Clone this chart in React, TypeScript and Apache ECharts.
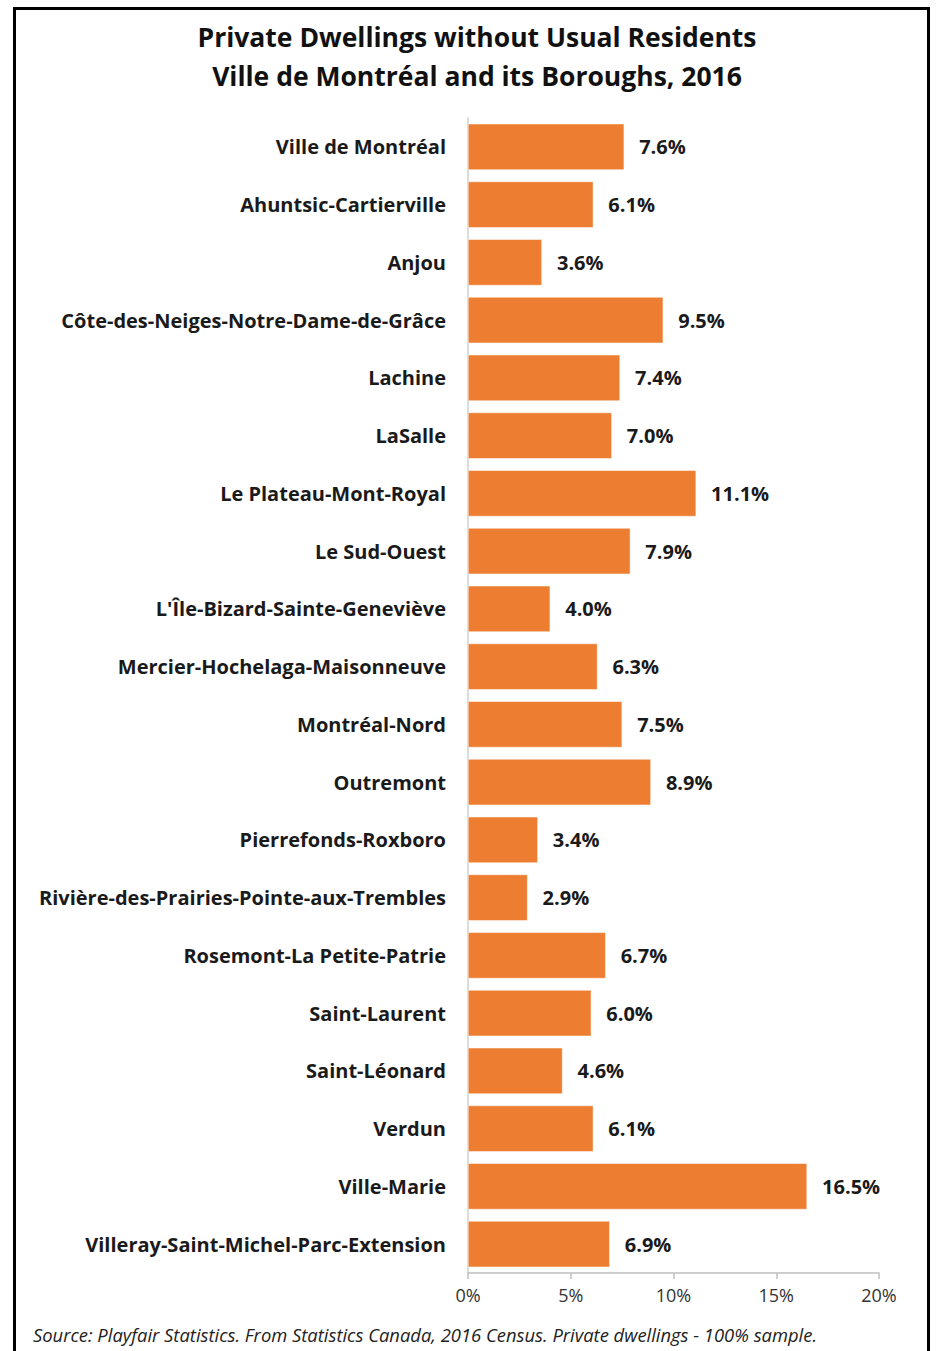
import React, { useEffect, useRef } from "react";
import * as echarts from "echarts";

const categories = [
  "Ville de Montréal",
  "Ahuntsic-Cartierville",
  "Anjou",
  "Côte-des-Neiges-Notre-Dame-de-Grâce",
  "Lachine",
  "LaSalle",
  "Le Plateau-Mont-Royal",
  "Le Sud-Ouest",
  "L'Île-Bizard-Sainte-Geneviève",
  "Mercier-Hochelaga-Maisonneuve",
  "Montréal-Nord",
  "Outremont",
  "Pierrefonds-Roxboro",
  "Rivière-des-Prairies-Pointe-aux-Trembles",
  "Rosemont-La Petite-Patrie",
  "Saint-Laurent",
  "Saint-Léonard",
  "Verdun",
  "Ville-Marie",
  "Villeray-Saint-Michel-Parc-Extension",
];

const values = [7.6, 6.1, 3.6, 9.5, 7.4, 7.0, 11.1, 7.9, 4.0, 6.3, 7.5, 8.9, 3.4, 2.9, 6.7, 6.0, 4.6, 6.1, 16.5, 6.9];

const titleLines = [
  "Private Dwellings without Usual Residents",
  "Ville de Montréal and its Boroughs, 2016",
];
const sourceText =
  "Source: Playfair Statistics. From Statistics Canada, 2016 Census. Private dwellings - 100% sample.";

const FONT = "'Open Sans', Lato, sans-serif";

export default function App() {
  const ref = useRef<HTMLDivElement>(null);
  useEffect(() => {
    if (!ref.current) return;
    const chart = echarts.init(ref.current, null, { renderer: "svg" });
    chart.setOption({
      animation: false,
      backgroundColor: "#ffffff",
      textStyle: { fontFamily: FONT },
      title: {
        text: titleLines.join("\n"),
        left: 472,
        top: 12,
        textAlign: "center",
        textStyle: {
          fontFamily: FONT,
          fontSize: 26.5,
          fontWeight: "bold",
          color: "#111",
          lineHeight: 39,
        },
      },
      grid: { left: 468, right: 59, top: 118, bottom: 78, containLabel: false },
      xAxis: {
        type: "value",
        min: 0,
        max: 20,
        interval: 5,
        axisLine: { show: true, lineStyle: { color: "#bfbfbf", width: 1.5 } },
        axisTick: { show: true, length: 6, lineStyle: { color: "#bfbfbf", width: 1.5 } },
        splitLine: { show: false },
        axisLabel: {
          formatter: (v: number) => v + "%",
          fontFamily: FONT,
          fontSize: 18,
          color: "#333",
          margin: 13,
        },
      },
      yAxis: {
        type: "category",
        data: categories,
        inverse: true,
        axisLine: { show: true, lineStyle: { color: "#d0d0d0", width: 1.5 } },
        axisTick: { show: false },
        axisLabel: {
          fontFamily: FONT,
          fontSize: 20,
          fontWeight: "bold",
          color: "#1a1a1a",
          margin: 22,
        },
      },
      series: [
        {
          type: "bar",
          data: values,
          barCategoryGap: "20%",
          itemStyle: { color: "#ED7D31", borderColor: "#ffffff", borderWidth: 0.5 },
          label: {
            show: true,
            position: "right",
            distance: 15,
            formatter: (p: any) => p.value.toFixed(1) + "%",
            fontFamily: FONT,
            fontSize: 20,
            fontWeight: "bold",
            color: "#1a1a1a",
          },
        },
      ],
      graphic: [
        {
          type: "rect",
          shape: { x: 14.5, y: 8.5, width: 914, height: 1360 },
          style: { fill: "none", stroke: "#000", lineWidth: 3 },
          silent: true,
        },
        {
          type: "text",
          left: 33,
          top: 1325,
          style: {
            text: sourceText,
            fontFamily: FONT,
            fontSize: 18.4,
            fontStyle: "italic",
            fill: "#222",
          },
        },
      ],
    });
    return () => chart.dispose();
  }, []);
  return (
    <div
      ref={ref}
      style={{ position: "absolute", left: 0, top: 0, width: 938, height: 1351 }}
    />
  );
}
